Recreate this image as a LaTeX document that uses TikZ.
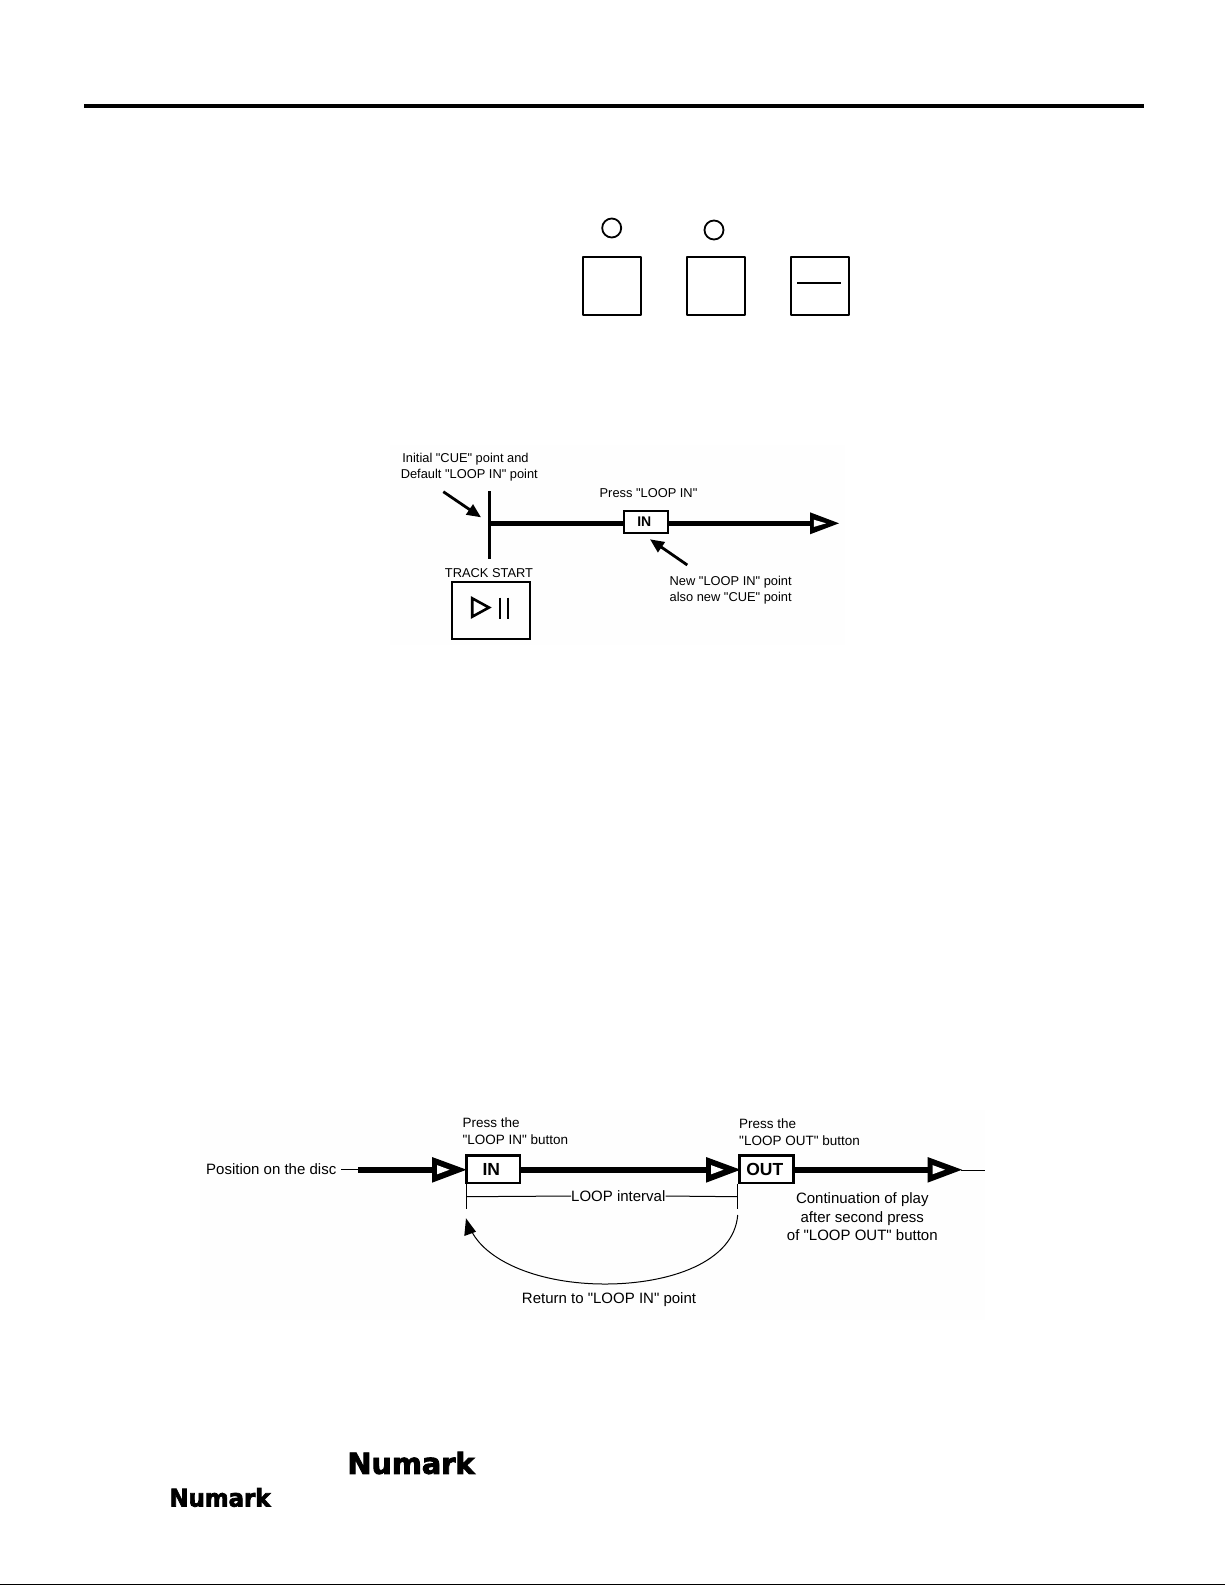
\documentclass[tikz,border=0pt]{standalone}
\usepackage{fontspec}
\usepackage{graphicx}
\newfontfamily\lib{Liberation Sans}
\newfontfamily\logofont{DejaVu Sans Bold}[FakeBold=3]
\usetikzlibrary{arrows.meta}
\tikzset{
  lbl/.style={inner sep=0pt,font=\lib\fontsize{15}{18.4}\selectfont,align=center},
  lbls/.style={inner sep=0pt,font=\lib\fontsize{12.85}{15}\selectfont,align=center},
  lblm/.style={inner sep=0pt,font=\lib\fontsize{13.5}{16}\selectfont,align=left},
  panelbtn/.style={draw,line width=2pt,line join=round,fill=white},
  led/.style={draw,circle,line width=1.8pt,minimum size=19pt,inner sep=0pt},
  playline/.style={line width=4.6pt},
  playlineb/.style={line width=6.4pt},
  lbox/.style={draw,fill=white,inner sep=0pt,line width=2.4pt,font=\lib\bfseries\fontsize{17.5}{18}\selectfont},
  sbox/.style={draw,fill=white,inner sep=0pt,line width=2pt,font=\lib\bfseries\fontsize{14}{14}\selectfont},
  thin line/.style={line width=1pt},
  callout/.style={line width=2.8pt,-{Triangle[length=14pt,width=12pt]}},
  bgpatch/.style={fill=black!0.5,draw=none},
  bighead/.pic={
    \fill[black,line join=round] (0,-12.7) -- (34.5,0) -- (0,13) -- cycle;
    \fill[white] (5,-4.6) -- (17.5,0) -- (5,4.6) -- cycle;
  },
  smallhead/.pic={
    \fill[black] (0,-11) -- (29,0) -- (0,11) -- cycle;
    \fill[white] (3.8,-3.6) -- (16,0) -- (3.8,3.6) -- cycle;
  },
}
\begin{document}
\begin{tikzpicture}[x=1pt,y=-1pt]
\useasboundingbox (0,0) rectangle (1225,1585);
\fill[white] (0,0) rectangle (1225,1585);
% top rule and bottom edge
\coordinate (ruleL) at (84,106);
\coordinate (ruleR) at (1144,106);
\draw[line width=4pt] (ruleL) -- (ruleR);
\coordinate (edgeL) at (0,1584.3);
\coordinate (edgeR) at (1225,1584.3);
\draw[line width=1.4pt] (edgeL) -- (edgeR);
% panel
\node[led] (led1) at (611.7,228) {};
\node[led] (led2) at (714,230) {};
\node[panelbtn,minimum width=58.4pt,minimum height=58.4pt,inner sep=0pt] (btnA) at (611.8,286) {};
\node[panelbtn,minimum width=58.4pt,minimum height=58.4pt,inner sep=0pt] (btnB) at (715.8,286) {};
\node[panelbtn,minimum width=58.4pt,minimum height=58.4pt,inner sep=0pt] (btnC) at (819.8,286) {};
\coordinate (dashL) at (797,282.7);
\coordinate (dashR) at (841,282.7);
\draw[line width=1.8pt] (dashL) -- (dashR);
% upper diagram
\fill[bgpatch] (390,445) rectangle (845,645);
\coordinate (startT) at (489,491);
\coordinate (startB) at (489,559);
\draw[line width=3pt] (startT) -- (startB);
\node[sbox,minimum width=44pt,minimum height=22pt] (inA) at (646,521.7) {IN\kern3.5pt};
\coordinate (headA) at (812,523.3);
\coordinate (startM) at (489,523.3);
\draw[playline] (startM) -- (inA.west |- startM);
\draw[playline] (inA.east |- startM) -- (headA);
\pic at (810,523.3) {smallhead};
\node[lbls] (tCue1) at (465.5,458.7) {Initial "CUE" point and};
\node[lbls] (tCue2) at (469.3,475.3) {Default "LOOP IN" point};
\node[lbls] (tPress) at (648.5,492.7) {Press "LOOP IN"};
\node[lbls] (tStart) at (489,573.5) {TRACK START};
\node[lbls,anchor=west] (tNew1) at (669.5,582.2) {New "LOOP IN" point};
\node[lbls,anchor=west] (tNew2) at (669.5,598) {also new "CUE" point};
\coordinate (c1a) at (443.3,491.7);
\coordinate (c1b) at (481,517.3);
\draw[callout] (c1a) -- (c1b);
\coordinate (c2a) at (687.3,565);
\coordinate (c2b) at (650,539.3);
\draw[callout] (c2a) -- (c2b);
\node[draw,line width=2.2pt,minimum width=78.3pt,minimum height=57.3pt,inner sep=0pt] (playBtn) at (490.8,610.3) {};
\draw[line width=2.6pt,miter limit=10] (472.2,598.3) -- (489,607.5) -- (472.2,616.7) -- cycle;
\coordinate (p1a) at (500,597.7); \coordinate (p1b) at (500,619);
\coordinate (p2a) at (508.3,597.7); \coordinate (p2b) at (508.3,619);
\draw[line width=2pt] (p1a) -- (p1b) (p2a) -- (p2b);
% lower diagram
\fill[bgpatch] (200,1110) rectangle (985,1320);
\node[lbl,anchor=west] (tPos) at (206,1169) {Position on the disc};
\coordinate (thinA) at (341,1169.7);
\coordinate (thickA) at (358,1169.7);
\draw[thin line] (thinA) -- (thickA);
\coordinate (h1) at (436,1169.7);
\draw[playlineb] (thickA) -- (h1);
\pic at (432,1169.7) {bighead};
\coordinate (h2) at (710,1169.7);
\coordinate (h3) at (931,1169.7);
\node[lbox,minimum width=53.5pt,minimum height=27.5pt] (inB) at (493.3,1169.4) {IN\kern4pt};
\draw[playlineb] (inB.east |- h2) -- (h2);
\pic at (706,1169.7) {bighead};
\node[lbox,minimum width=54pt,minimum height=27.5pt] (outB) at (766.3,1169.4) {OUT\kern3pt};
\draw[playlineb] (outB.east |- h3) -- (h3);
\pic at (927.5,1169.7) {bighead};
\coordinate (thinB) at (985,1170);
\draw[thin line] (961,1170) -- (thinB);
\node[lblm,anchor=west] (tP1) at (462.3,1122.7) {Press the};
\node[lblm,anchor=west] (tP2) at (462.3,1139.3) {"LOOP IN" button};
\node[lblm,anchor=west] (tP3) at (739,1124) {Press the};
\node[lblm,anchor=west] (tP4) at (739,1140.7) {"LOOP OUT" button};
\node[lbl] (tInt) at (618.3,1196) {LOOP interval};
\coordinate (tickLt) at (466,1183.5);
\coordinate (tickLb) at (466,1209.3);
\coordinate (tickRt) at (737.7,1183.5);
\coordinate (tickRb) at (737.7,1209.3);
\draw[thin line] (tickLt) -- (tickLb) (tickRt) -- (tickRb);
\draw[thin line] (466,1196.7) -- (tInt.west) (tInt.east) -- (737.7,1196.7);
\coordinate (retA) at (737.7,1215);
\coordinate (retM) at (605,1284);
\coordinate (retB) at (466,1218.3);
\draw[line width=1pt] (retA) .. controls (734,1262) and (670,1284) .. (retM)
  .. controls (540,1284) and (488,1262) .. (472,1232);
\fill (retB) -- (476,1231.7) -- (464.3,1236) -- cycle;
\node[lbl] (tRet) at (609,1299.4) {Return to "LOOP IN" point};
\node[lbl] (tCont) at (862.3,1216.7) {Continuation of play\\after second press\\of "LOOP OUT" button};
% logos
\node[inner sep=0pt] (logoA) at (411,1463) {\resizebox{127pt}{22pt}{\logofont Numark}};
\node[inner sep=0pt] (logoB) at (220,1497.5) {\resizebox{101pt}{18.5pt}{\logofont Numark}};
\end{tikzpicture}
\end{document}
